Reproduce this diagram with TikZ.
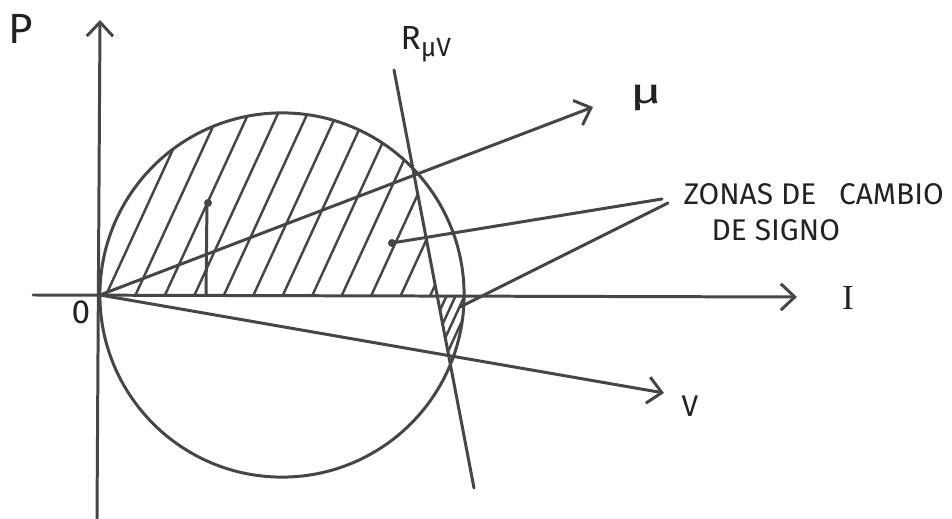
\documentclass[tikz,border=0pt]{standalone}
\usepackage{fontspec}
\setmainfont{Fira Sans}
\newfontfamily\serifI{Liberation Serif}
\usetikzlibrary{arrows.meta}
\definecolor{ink}{HTML}{464646}
\definecolor{txt}{HTML}{222222}
\begin{document}
\begin{tikzpicture}[x=0.01cm,y=-0.01cm,
  line/.style={draw=ink,line width=0.85pt,line cap=round},
  hatch/.style={draw=ink,line width=0.7pt},
  arr/.style={-{Straight Barb[length=4pt,width=7.5pt,line width=0.85pt]}},
  lbl/.style={text=txt,inner sep=0pt}]
\useasboundingbox (0,0) rectangle (952,519);
% key points
\coordinate (O) at (100,295);
\coordinate (C) at (282,295);
\coordinate (Pbot) at (97,519);
\coordinate (Ptop) at (100,20);
\coordinate (Ileft) at (33,295);
\coordinate (Iright) at (797,297);
\coordinate (Mtip) at (593,107);
\coordinate (Vtip) at (664,393);
\coordinate (Rtop) at (394,70);
\coordinate (Rbot) at (474,488);
\coordinate (Rax) at (437,295);
\coordinate (Rup) at (380,0);
\coordinate (Rdown) at (481,519);
% hatching of the upper zone
\begin{scope}
  \clip (C) circle [radius=1.82cm];
  \clip (0,295) -- (Rax) -- (Rup) -- (0,0) -- cycle;
  \foreach \k in {0,...,12}{
    \draw[hatch] ({106+29.5*\k-0.46*40},335) -- ({106+29.5*\k+0.46*260},35);
  }
\end{scope}
% hatching of the lower lens
\begin{scope}
  \clip (C) circle [radius=1.82cm];
  \clip (Rax) -- (700,295) -- (700,519) -- (Rdown) -- cycle;
  \foreach \k in {0,...,8}{
    \draw[hatch] ({420+9*\k-0.46*100},395) -- ({420+9*\k+0.46*20},275);
  }
\end{scope}
% circle
\draw[line] (C) circle [radius=1.82cm];
% axes
\draw[line,arr] (Pbot) -- (Ptop);
\draw[line,arr] (Ileft) -- (Iright);
% vectors
\draw[line,arr] (O) -- (Mtip);
\draw[line,arr] (O) -- (Vtip);
% line R
\draw[line] (Rtop) -- (Rbot);
% small vertical mark in hatched zone
\coordinate (mb) at (206,295);
\coordinate (mt) at (207,201);
\draw[line] (mb) -- (mt);
\fill[ink] (208,203) circle [radius=0.04cm];
% labels
\node[lbl,font=\fontsize{12}{12}\selectfont] (P) at (21,29) {P};
\node[lbl,font=\fontsize{9.5}{9.5}\selectfont,anchor=west] (R) at (400,44) {R\textsubscript{\fontsize{7.5}{7.5}\selectfont μV}};
\node[lbl,font=\fontsize{9}{9}\selectfont] (mu) at (646,98) {\scalebox{1.7}[1.1]{μ}};
\node[lbl,font=\fontsize{8.5}{8.5}\selectfont] (V) at (690,406) {V};
\node[lbl,font=\serifI\fontsize{10}{10}\selectfont] (I) at (848,298) {I};
\node[lbl,font=\fontsize{9.5}{9.5}\selectfont] (zero) at (81,312) {0};
\node[lbl,font=\fontsize{8.5}{8.5}\selectfont,anchor=west] (z1) at (683,194) {ZONAS DE\hspace{0.5em} CAMBIO};
\node[lbl,font=\fontsize{8.5}{8.5}\selectfont,anchor=west] (z2) at (711,230) {DE SIGNO};
% callouts
\coordinate (c1) at (662,199);
\coordinate (c2) at (668,203);
\coordinate (e1) at (392,243);
\coordinate (e2) at (460,307);
\draw[line] (c1) -- (e1);
\fill[ink] (e1) circle [radius=0.04cm];
\draw[line] (c2) -- (e2);
\end{tikzpicture}
\end{document}
